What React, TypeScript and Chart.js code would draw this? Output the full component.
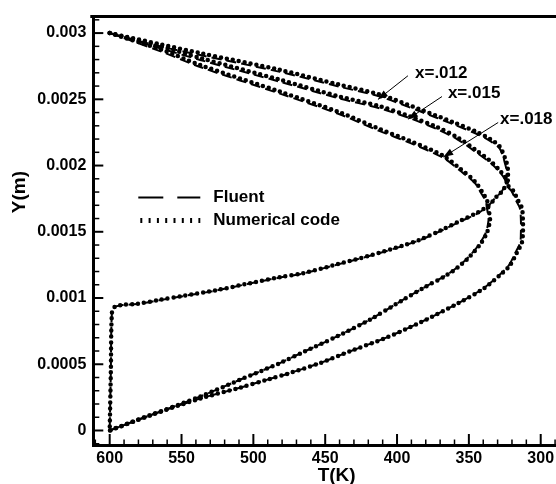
import React, { useEffect, useRef } from 'react';
import { Chart, registerables } from 'chart.js';

Chart.register(...registerables);

const FONT = '"Liberation Sans", Arial, Helvetica, sans-serif';

// ---- Numerical code (dots) ----
const numT012 = [600, 565, 537, 481.5, 440, 412, 384, 361, 344.4, 335.3, 328.4, 323.5, 322.8, 322.8, 322.8, 319.3, 315.9, 313.1, 312.4, 312.4, 313.1, 316.5, 321.4, 328.4, 340.2, 358.3, 384.1, 407, 430.7, 453.6, 476.6, 488.4, 509.3, 537.1, 572, 600];
const numY012 = [0.003, 0.002916, 0.002849, 0.002722, 0.00261, 0.002536, 0.002424, 0.002327, 0.002253, 0.002201, 0.002141, 0.002014, 0.001962, 0.001902, 0.00185, 0.001813, 0.001739, 0.001679, 0.00159, 0.001493, 0.001418, 0.001344, 0.001247, 0.001172, 0.001068, 0.000956, 0.000814, 0.000703, 0.000606, 0.000509, 0.000427, 0.00039, 0.000323, 0.000241, 0.000114, 0];

const numT015 = [600, 565, 537, 481.5, 440, 412, 391, 372.2, 358.3, 344.4, 335.3, 328.4, 323.5, 326.3, 330.5, 333.9, 336.7, 344.4, 356.2, 370.1, 384.1, 395.9, 418.8, 441.8, 465.5, 481.5, 502.4, 525.3, 549, 565, 581, 590.7, 596.3, 598.4, 599.2, 600];
const numY015 = [0.003, 0.002901, 0.002812, 0.002648, 0.002521, 0.002447, 0.002372, 0.00229, 0.002215, 0.002111, 0.002037, 0.001962, 0.001888, 0.001813, 0.001768, 0.001724, 0.001694, 0.001642, 0.001582, 0.001508, 0.00144, 0.001396, 0.001321, 0.001254, 0.001187, 0.001157, 0.001112, 0.00106, 0.001016, 0.000986, 0.000956, 0.000949, 0.000934, 0.000896, 0.00045, 0];

const numT018 = [600, 565, 537, 481.5, 440, 412, 391, 368, 356.2, 345.8, 340.2, 337.4, 336.7, 335.8, 335.3, 337.4, 342.3, 349.3, 357.6, 366.6, 380.6, 395.9, 418.8, 441.8, 465.5, 481.5, 509.3, 537.1, 572, 600];
const numY018 = [0.003, 0.002879, 0.002759, 0.002558, 0.002402, 0.002275, 0.002186, 0.002074, 0.001977, 0.00188, 0.001791, 0.001739, 0.001694, 0.001642, 0.00159, 0.001493, 0.001403, 0.001314, 0.001232, 0.001165, 0.001083, 0.000986, 0.000837, 0.00071, 0.000591, 0.000509, 0.000383, 0.000256, 0.000114, 0];

// ---- Fluent (dashed) ----
const fluT012 = [600, 565, 537, 481.5, 440, 412, 384, 361, 344.4, 335.3, 328.4, 324.5, 323.8, 323.8, 323.8, 320.5, 317.2, 314.5, 313.8, 313.8, 314.3, 317.5, 322.2, 329, 340.6, 358.3, 384.1, 407, 430.7, 453.6, 476.6, 488.4, 509.3, 537.1, 572, 600];
const fluY012 = [0.003, 0.0029, 0.002834, 0.002707, 0.002595, 0.002521, 0.002409, 0.002312, 0.002238, 0.002186, 0.002126, 0.002002, 0.001955, 0.001897, 0.001848, 0.001811, 0.001737, 0.001678, 0.00159, 0.001493, 0.001418, 0.001344, 0.001247, 0.001172, 0.001068, 0.000956, 0.000814, 0.000703, 0.000606, 0.000509, 0.000427, 0.00039, 0.000323, 0.000241, 0.000114, 0];

const fluT015 = [600, 565, 537, 481.5, 440, 412, 391, 372.2, 358.3, 344.4, 335.3, 328.4, 324.5, 327, 331, 334.4, 337.2, 344.4, 356.2, 370.1, 384.1, 395.9, 418.8, 441.8, 465.5, 481.5, 502.4, 525.3, 549, 565, 581, 590.7, 596.3, 598.4, 599.2, 600];
const fluY015 = [0.003, 0.002886, 0.002797, 0.002633, 0.002506, 0.002432, 0.002357, 0.002275, 0.0022, 0.002096, 0.002022, 0.001949, 0.001878, 0.001806, 0.001763, 0.00172, 0.001688, 0.001636, 0.001577, 0.001504, 0.001437, 0.001393, 0.001319, 0.001252, 0.001185, 0.001155, 0.00111, 0.001058, 0.001014, 0.000984, 0.000954, 0.000947, 0.000932, 0.000896, 0.00045, 0];

const fluT018 = [600, 565, 537, 481.5, 440, 412, 391, 368, 356.2, 345.8, 340.9, 338.2, 337.6, 336.8, 336.3, 338.2, 343, 349.8, 358, 366.9, 380.6, 395.9, 418.8, 441.8, 465.5, 481.5, 509.3, 537.1, 572, 600];
const fluY018 = [0.003, 0.002864, 0.002744, 0.002543, 0.002387, 0.00226, 0.002171, 0.002059, 0.001962, 0.001867, 0.001781, 0.001732, 0.00169, 0.00164, 0.00159, 0.001493, 0.001403, 0.001314, 0.001232, 0.001165, 0.001083, 0.000986, 0.000837, 0.00071, 0.000591, 0.000509, 0.000383, 0.000256, 0.000114, 0];

// ---- ticks and labels ----
const xTickValues = [300, 350, 400, 450, 500, 550, 600];
const yTickValues = [0, 0.0005, 0.001, 0.0015, 0.002, 0.0025, 0.003];
const yTickLabels = ['0', '0.0005', '0.001', '0.0015', '0.002', '0.0025', '0.003'];
const xTitle = 'T(K)';
const yTitle = 'Y(m)';
const legendNames = ['Fluent', 'Numerical code'];

// ---- curve annotations ----
const curveNames = ['x=.012', 'x=.015', 'x=.018'];
const labelT = [387.5, 364.6, 328.3];
const labelY = [0.0027, 0.002543, 0.00235];
const arrowFromT = [392.4, 368.7, 329.6];
const arrowFromY = [0.002678, 0.002521, 0.002325];
const arrowToT = [413.3, 392.4, 367.8];
const arrowToY = [0.002499, 0.00235, 0.002064];

const zip = (xs: number[], ys: number[]) => xs.map((x, i) => ({ x, y: ys[i] }));

const fluentDs = (t: number[], y: number[]) => ({
  label: legendNames[0],
  data: zip(t, y),
  showLine: true,
  borderColor: '#000',
  backgroundColor: '#000',
  borderWidth: 2,
  borderDash: [10, 5],
  pointRadius: 0,
  pointHoverRadius: 0,
  tension: 0.3,
  fill: false,
});

const numDs = (t: number[], y: number[]) => ({
  label: legendNames[1],
  data: zip(t, y),
  showLine: true,
  borderColor: '#000',
  backgroundColor: '#000',
  borderWidth: 4.5,
  borderDash: [0, 6],
  borderCapStyle: 'round',
  pointRadius: 0,
  pointHoverRadius: 0,
  tension: 0.3,
  fill: false,
});

const decorPlugin = {
  id: 'decor',
  afterDraw(chart: any) {
    const { ctx, chartArea: ca, scales } = chart;
    const xs = scales.x;
    const ys = scales.y;
    ctx.save();
    ctx.strokeStyle = '#000';
    ctx.fillStyle = '#000';
    ctx.setLineDash([]);

    // top frame line
    ctx.lineWidth = 3;
    ctx.beginPath();
    ctx.moveTo(ca.left - 3, ca.top);
    ctx.lineTo(ca.right + 2, ca.top);
    ctx.stroke();

    // inward x ticks
    for (let v = 280; v <= 610; v += 10) {
      const px = xs.getPixelForValue(v);
      if (px < ca.left || px > ca.right) continue;
      const major = v % 50 === 0;
      ctx.lineWidth = major ? 2 : 1.5;
      ctx.beginPath();
      ctx.moveTo(px, ca.bottom);
      ctx.lineTo(px, ca.bottom - (major ? 11 : 5.5));
      ctx.stroke();
    }
    // inward y ticks
    for (let k = -1; k <= 31; k++) {
      const py = ys.getPixelForValue(k * 0.0001);
      if (py < ca.top || py > ca.bottom) continue;
      const major = k % 5 === 0;
      ctx.lineWidth = major ? 2 : 1.5;
      ctx.beginPath();
      ctx.moveTo(ca.left, py);
      ctx.lineTo(ca.left + (major ? 10 : 6), py);
      ctx.stroke();
    }

    // y title
    ctx.save();
    ctx.font = `bold 19px ${FONT}`;
    ctx.textAlign = 'center';
    ctx.textBaseline = 'middle';
    ctx.translate(20, ys.getPixelForValue(0.0018));
    ctx.rotate(-Math.PI / 2);
    ctx.fillText(yTitle, 0, 0);
    ctx.restore();

    // legend
    const lx0 = ca.left + 45;
    const lx1 = ca.left + 107;
    const tx = ca.left + 120;
    const r1 = ca.top + 181;
    const r2 = ca.top + 204;
    ctx.lineWidth = 2;
    ctx.setLineDash([25, 14]);
    ctx.beginPath();
    ctx.moveTo(lx0, r1);
    ctx.lineTo(lx1, r1);
    ctx.stroke();
    ctx.lineWidth = 5;
    ctx.setLineDash([2, 6.3]);
    ctx.beginPath();
    ctx.moveTo(lx0 + 2, r2);
    ctx.lineTo(lx1, r2);
    ctx.stroke();
    ctx.setLineDash([]);
    ctx.font = `bold 17px ${FONT}`;
    ctx.textAlign = 'left';
    ctx.textBaseline = 'middle';
    ctx.fillText(legendNames[0], tx, r1);
    ctx.fillText(legendNames[1], tx, r2);

    // annotations with arrows
    for (let i = 0; i < curveNames.length; i++) {
      ctx.fillText(curveNames[i], xs.getPixelForValue(labelT[i]), ys.getPixelForValue(labelY[i]));
      const x1 = xs.getPixelForValue(arrowFromT[i]);
      const y1 = ys.getPixelForValue(arrowFromY[i]);
      const x2 = xs.getPixelForValue(arrowToT[i]);
      const y2 = ys.getPixelForValue(arrowToY[i]);
      ctx.lineWidth = 1;
      ctx.beginPath();
      ctx.moveTo(x1, y1);
      ctx.lineTo(x2, y2);
      ctx.stroke();
      const ang = Math.atan2(y2 - y1, x2 - x1);
      const L = 10;
      const W = 3.5;
      const bx = x2 - L * Math.cos(ang);
      const by = y2 - L * Math.sin(ang);
      ctx.beginPath();
      ctx.moveTo(x2, y2);
      ctx.lineTo(bx + W * Math.sin(ang), by - W * Math.cos(ang));
      ctx.lineTo(bx - W * Math.sin(ang), by + W * Math.cos(ang));
      ctx.closePath();
      ctx.fill();
    }
    ctx.restore();
  },
};

export default function App() {
  const ref = useRef<HTMLCanvasElement>(null);
  useEffect(() => {
    if (!ref.current) return;
    const chart = new Chart(ref.current, {
      type: 'scatter',
      data: {
        datasets: [
          fluentDs(fluT012, fluY012),
          fluentDs(fluT015, fluY015),
          fluentDs(fluT018, fluY018),
          numDs(numT012, numY012),
          numDs(numT015, numY015),
          numDs(numT018, numY018),
        ] as any,
      },
      options: {
        animation: false,
        responsive: false,
        devicePixelRatio: 1,
        events: [],
        layout: { padding: { left: 0, top: 11, right: 20, bottom: 0 } },
        plugins: { legend: { display: false }, tooltip: { enabled: false } },
        scales: {
          x: {
            type: 'linear',
            reverse: true,
            min: 272.65,
            max: 611.41,
            afterBuildTicks: (s: any) => {
              s.ticks = xTickValues.map((v) => ({ value: v }));
            },
            afterFit: (s: any) => {
              s.height = 39;
            },
            grid: { display: false, drawTicks: false },
            border: { display: true, color: '#000', width: 3 },
            ticks: {
              color: '#000',
              font: { family: FONT, size: 16, weight: 'bold' },
              padding: 4,
              maxRotation: 0,
              autoSkip: false,
              callback: (v: any) => String(v),
            },
            title: {
              display: true,
              text: xTitle,
              color: '#000',
              font: { family: FONT, size: 19, weight: 'bold', lineHeight: 0.9 },
              padding: 0,
            },
          },
          y: {
            type: 'linear',
            min: -0.00010954,
            max: 0.0031244,
            afterBuildTicks: (s: any) => {
              s.ticks = yTickValues.map((v) => ({ value: v }));
            },
            afterFit: (s: any) => {
              s.width = 93.3;
            },
            grid: { display: false, drawTicks: false },
            border: { display: true, color: '#000', width: 3 },
            ticks: {
              color: '#000',
              font: { family: FONT, size: 16, weight: 'bold' },
              padding: 7,
              autoSkip: false,
              callback: (_v: any, i: number) => yTickLabels[i],
            },
          },
        },
      } as any,
      plugins: [decorPlugin],
    });
    return () => chart.destroy();
  }, []);

  return (
    <div style={{ position: 'absolute', left: 0, top: 0, width: 556, height: 484, overflow: 'hidden', background: '#fff' }}>
      <canvas ref={ref} width={600} height={484} style={{ width: 600, height: 484, display: 'block' }} />
    </div>
  );
}
